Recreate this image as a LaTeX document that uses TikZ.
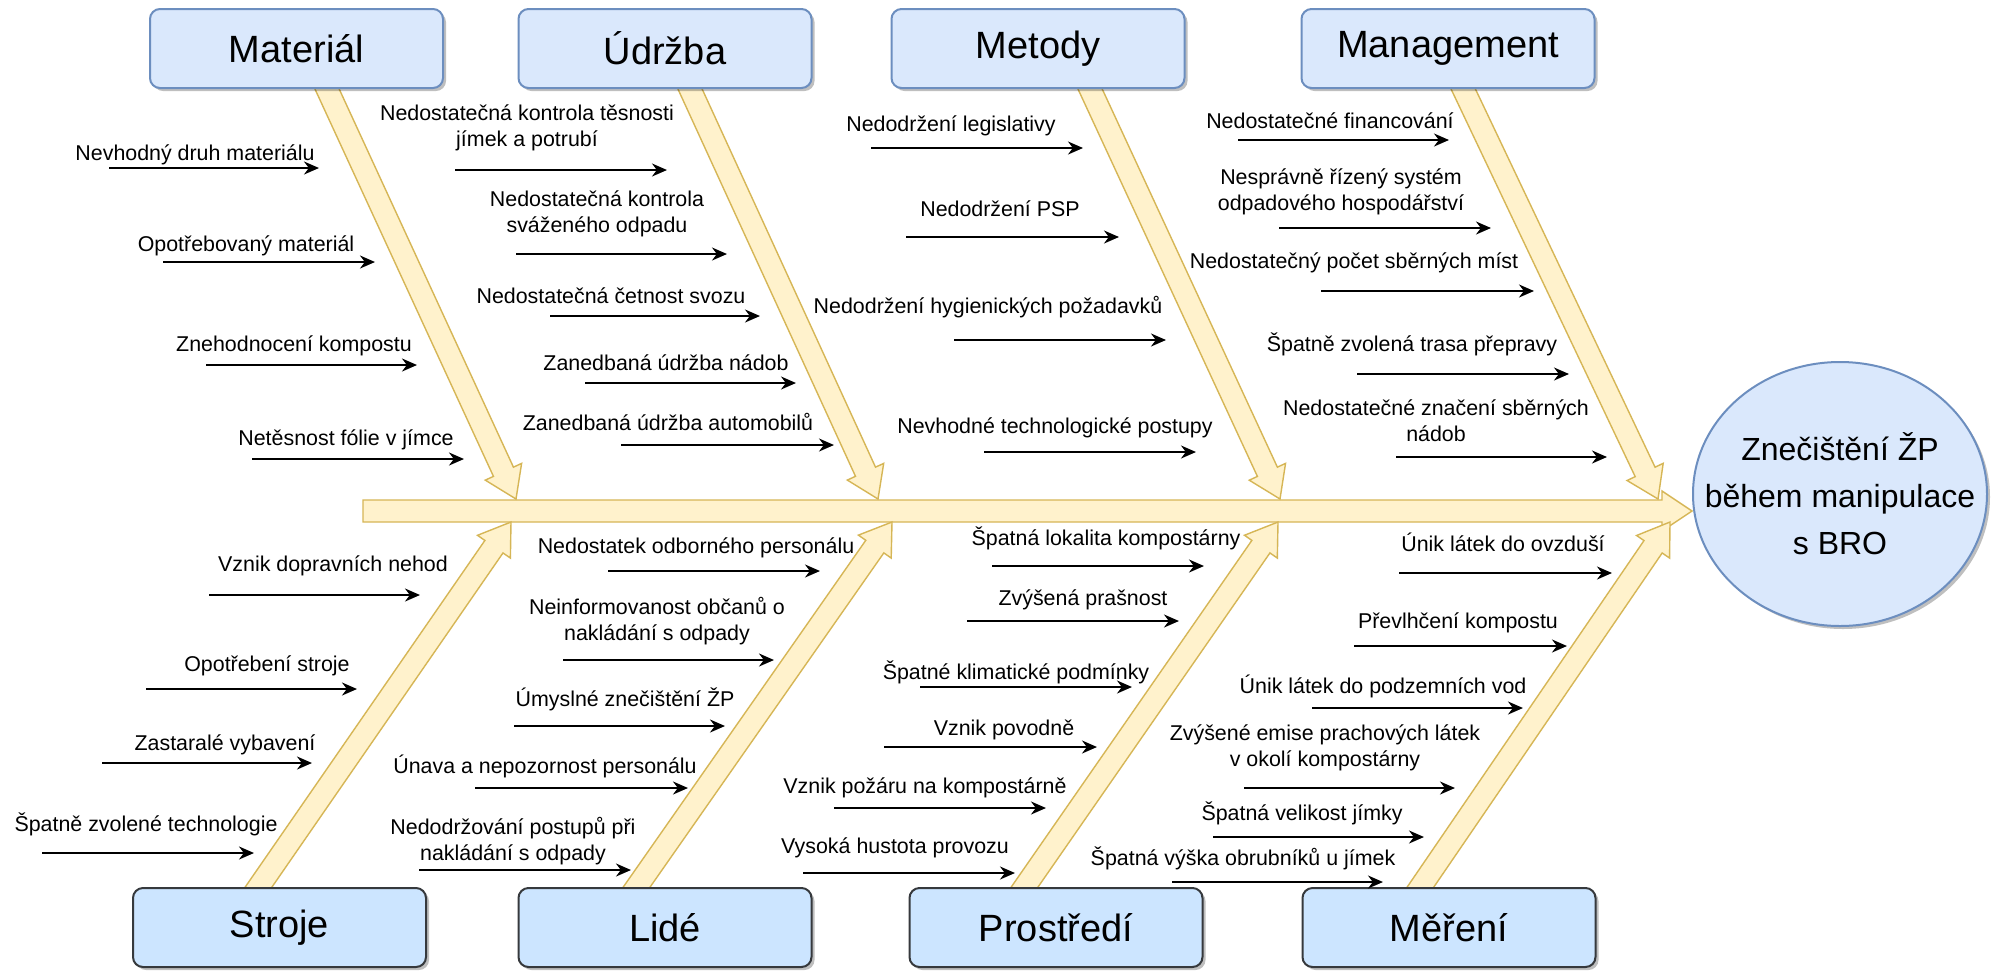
\documentclass[tikz,border=0pt]{standalone}
\usepackage{fontspec}
\setmainfont{Liberation Sans}
\usetikzlibrary{calc,arrows.meta,shadows,shapes.geometric}

\definecolor{catfill}{HTML}{DAE8FC}
\definecolor{catline}{HTML}{6C8EBF}
\definecolor{lowfill}{HTML}{CCE5FF}
\definecolor{lowline}{HTML}{36393D}
\definecolor{bonefill}{HTML}{FFF2CC}
\definecolor{boneline}{HTML}{D6B656}

% wide yellow arrow from #1 to #2 (shaft, head ends at #2)
\newcommand{\bonearrow}[2]{%
  \coordinate (bh) at ($(#2)!15pt!(#1)$);
  \filldraw[bone] ($(#1)!5.5pt!90:(#2)$) -- ($(bh)!5.5pt!90:(#2)$)
    -- ($(bh)!10pt!90:(#2)$) -- (#2) -- ($(bh)!10pt!-90:(#2)$)
    -- ($(bh)!5.5pt!-90:(#2)$) -- ($(#1)!5.5pt!-90:(#2)$) -- cycle;}

\begin{document}
\begin{tikzpicture}[
    x=0.5pt, y=-0.5pt,
    font=\fontsize{10.7}{12.8}\selectfont,
    cat/.style={draw=catline, fill=catfill, line width=1pt, rounded corners=5pt,
      minimum width=146.5pt, minimum height=39.5pt, inner sep=0pt,
      font=\fontsize{19}{22}\selectfont,
      drop shadow={shadow xshift=1.5pt, shadow yshift=-1.5pt, fill=black, opacity=0.25}},
    low/.style={cat, draw=lowline, fill=lowfill},          % bottom row of categories
    goal/.style={ellipse, draw=catline, fill=catfill, line width=1pt,
      minimum width=147pt, minimum height=132pt, inner sep=0pt,
      drop shadow={shadow xshift=1.5pt, shadow yshift=-1.5pt, fill=black, opacity=0.25}},
    goaltext/.style={align=center, inner sep=0pt, font=\fontsize{16}{23.5}\selectfont},
    bone/.style={fill=bonefill, draw=boneline, line width=0.7pt},
    cause/.style={anchor=base, inner sep=0pt, align=center},   % base = last line
    causearr/.style={-{Stealth[length=7.5pt, width=6.5pt]}, line width=1pt}
  ]

\path[use as bounding box, fill=white] (0,0) rectangle (1999,971);

% --- Head of the fish ---
\node[goal, label={[goaltext]center:Znečištění ŽP\\během manipulace\\s BRO}] (goal) at (1840,494) {};

% --- Spine ---
\coordinate (spine-a) at (363,511);
\coordinate (spine-b) at (goal.west |- spine-a);
\bonearrow{spine-a}{spine-b}

% --- Bones (start inside the boxes, tips on the spine) ---
\coordinate (mat-a) at (322,78);   \coordinate (mat-b) at (516,499);
\coordinate (udr-a) at (685,78);   \coordinate (udr-b) at (878,499);
\coordinate (met-a) at (1085,78);  \coordinate (met-b) at (1280,499);
\coordinate (man-a) at (1458,78);  \coordinate (man-b) at (1658,499);
\coordinate (str-a) at (251,898);  \coordinate (str-b) at (511,522);
\coordinate (lid-a) at (629,898);  \coordinate (lid-b) at (892,522);
\coordinate (pro-a) at (1017,898); \coordinate (pro-b) at (1278,522);
\coordinate (mer-a) at (1413,898); \coordinate (mer-b) at (1670,522);
\bonearrow{mat-a}{mat-b}
\bonearrow{udr-a}{udr-b}
\bonearrow{met-a}{met-b}
\bonearrow{man-a}{man-b}
\bonearrow{str-a}{str-b}
\bonearrow{lid-a}{lid-b}
\bonearrow{pro-a}{pro-b}
\bonearrow{mer-a}{mer-b}

% --- Categories ---
\node[cat] (mat) at (296.5,48.5) {Materiál};
\node[cat] (udr) at (665,48.5)   {Údržba};
\node[cat] (met) at (1038,48.5)  {Metody};
\node[cat] (man) at (1448,48.5)  {Management};
\node[low] (str) at (279.5,927.5) {Stroje};
\node[low] (lid) at (665,927.5)   {Lidé};
\node[low] (pro) at (1056,927.5)  {Prostředí};
\node[low] (mer) at (1449,927.5)  {Měření};

% --- Materiál ---
\node[cause] (m1) at (195,160) {Nevhodný druh materiálu};
\coordinate (m1a) at (109,168); \coordinate (m1b) at (319,168);
\draw[causearr] (m1a) -- (m1b);
\node[cause] (m2) at (246,251) {Opotřebovaný materiál};
\coordinate (m2a) at (163,262); \coordinate (m2b) at (375,262);
\draw[causearr] (m2a) -- (m2b);
\node[cause] (m3) at (294,351) {Znehodnocení kompostu};
\coordinate (m3a) at (206,365); \coordinate (m3b) at (417,365);
\draw[causearr] (m3a) -- (m3b);
\node[cause] (m4) at (346,445) {Netěsnost fólie v jímce};
\coordinate (m4a) at (252,459); \coordinate (m4b) at (464,459);
\draw[causearr] (m4a) -- (m4b);

% --- Údržba ---
\node[cause] (u1) at (527,146) {Nedostatečná kontrola těsnosti\\jímek a potrubí};
\coordinate (u1a) at (455,170); \coordinate (u1b) at (667,170);
\draw[causearr] (u1a) -- (u1b);
\node[cause] (u2) at (597,232) {Nedostatečná kontrola\\sváženého odpadu};
\coordinate (u2a) at (516,254); \coordinate (u2b) at (727,254);
\draw[causearr] (u2a) -- (u2b);
\node[cause] (u3) at (611,303) {Nedostatečná četnost svozu};
\coordinate (u3a) at (550,316); \coordinate (u3b) at (760,316);
\draw[causearr] (u3a) -- (u3b);
\node[cause] (u4) at (666,370) {Zanedbaná údržba nádob};
\coordinate (u4a) at (585,383); \coordinate (u4b) at (796,383);
\draw[causearr] (u4a) -- (u4b);
\node[cause] (u5) at (668,430) {Zanedbaná údržba automobilů};
\coordinate (u5a) at (621,445); \coordinate (u5b) at (834,445);
\draw[causearr] (u5a) -- (u5b);

% --- Metody ---
\node[cause] (e1) at (951,131) {Nedodržení legislativy};
\coordinate (e1a) at (871,148); \coordinate (e1b) at (1083,148);
\draw[causearr] (e1a) -- (e1b);
\node[cause] (e2) at (1000,216) {Nedodržení PSP};
\coordinate (e2a) at (906,237); \coordinate (e2b) at (1119,237);
\draw[causearr] (e2a) -- (e2b);
\node[cause] (e3) at (988,313) {Nedodržení hygienických požadavků};
\coordinate (e3a) at (954,340); \coordinate (e3b) at (1166,340);
\draw[causearr] (e3a) -- (e3b);
\node[cause] (e4) at (1055,433) {Nevhodné technologické postupy};
\coordinate (e4a) at (984,452); \coordinate (e4b) at (1196,452);
\draw[causearr] (e4a) -- (e4b);

% --- Management ---
\node[cause] (g1) at (1330,128) {Nedostatečné financování};
\coordinate (g1a) at (1238,140); \coordinate (g1b) at (1449,140);
\draw[causearr] (g1a) -- (g1b);
\node[cause] (g2) at (1341,210) {Nesprávně řízený systém\\odpadového hospodářství};
\coordinate (g2a) at (1279,228); \coordinate (g2b) at (1491,228);
\draw[causearr] (g2a) -- (g2b);
\node[cause] (g3) at (1354,268) {Nedostatečný počet sběrných míst};
\coordinate (g3a) at (1321,291); \coordinate (g3b) at (1534,291);
\draw[causearr] (g3a) -- (g3b);
\node[cause] (g4) at (1412,351) {Špatně zvolená trasa přepravy};
\coordinate (g4a) at (1357,374); \coordinate (g4b) at (1569,374);
\draw[causearr] (g4a) -- (g4b);
\node[cause] (g5) at (1436,441) {Nedostatečné značení sběrných\\nádob};
\coordinate (g5a) at (1396,457); \coordinate (g5b) at (1607,457);
\draw[causearr] (g5a) -- (g5b);

% --- Stroje ---
\node[cause] (s1) at (333,571) {Vznik dopravních nehod};
\coordinate (s1a) at (209,595); \coordinate (s1b) at (420,595);
\draw[causearr] (s1a) -- (s1b);
\node[cause] (s2) at (267,671) {Opotřebení stroje};
\coordinate (s2a) at (146,689); \coordinate (s2b) at (357,689);
\draw[causearr] (s2a) -- (s2b);
\node[cause] (s3) at (225,750) {Zastaralé vybavení};
\coordinate (s3a) at (102,763); \coordinate (s3b) at (312,763);
\draw[causearr] (s3a) -- (s3b);
\node[cause] (s4) at (146,831) {Špatně zvolené technologie};
\coordinate (s4a) at (42,853); \coordinate (s4b) at (254,853);
\draw[causearr] (s4a) -- (s4b);

% --- Lidé ---
\node[cause] (l1) at (696,553) {Nedostatek odborného personálu};
\coordinate (l1a) at (608,571); \coordinate (l1b) at (820,571);
\draw[causearr] (l1a) -- (l1b);
\node[cause] (l2) at (657,640) {Neinformovanost občanů o\\nakládání s odpady};
\coordinate (l2a) at (563,660); \coordinate (l2b) at (774,660);
\draw[causearr] (l2a) -- (l2b);
\node[cause] (l3) at (625,706) {Úmyslné znečištění ŽP};
\coordinate (l3a) at (514,726); \coordinate (l3b) at (725,726);
\draw[causearr] (l3a) -- (l3b);
\node[cause] (l4) at (545,773) {Únava a nepozornost personálu};
\coordinate (l4a) at (475,788); \coordinate (l4b) at (688,788);
\draw[causearr] (l4a) -- (l4b);
\node[cause] (l5) at (513,860) {Nedodržování postupů při\\nakládání s odpady};
\coordinate (l5a) at (419,870); \coordinate (l5b) at (631,870);
\draw[causearr] (l5a) -- (l5b);

% --- Prostředí ---
\node[cause] (p1) at (1106,545) {Špatná lokalita kompostárny};
\coordinate (p1a) at (992,566); \coordinate (p1b) at (1204,566);
\draw[causearr] (p1a) -- (p1b);
\node[cause] (p2) at (1083,605) {Zvýšená prašnost};
\coordinate (p2a) at (967,621); \coordinate (p2b) at (1179,621);
\draw[causearr] (p2a) -- (p2b);
\node[cause] (p3) at (1016,679) {Špatné klimatické podmínky};
\coordinate (p3a) at (920,687); \coordinate (p3b) at (1132,687);
\draw[causearr] (p3a) -- (p3b);
\node[cause] (p4) at (1004,735) {Vznik povodně};
\coordinate (p4a) at (884,747); \coordinate (p4b) at (1097,747);
\draw[causearr] (p4a) -- (p4b);
\node[cause] (p5) at (925,793) {Vznik požáru na kompostárně};
\coordinate (p5a) at (834,808); \coordinate (p5b) at (1046,808);
\draw[causearr] (p5a) -- (p5b);
\node[cause] (p6) at (895,853) {Vysoká hustota provozu};
\coordinate (p6a) at (803,873); \coordinate (p6b) at (1015,873);
\draw[causearr] (p6a) -- (p6b);

% --- Měření ---
\node[cause] (r1) at (1503,551) {Únik látek do ovzduší};
\coordinate (r1a) at (1399,573); \coordinate (r1b) at (1612,573);
\draw[causearr] (r1a) -- (r1b);
\node[cause] (r2) at (1458,628) {Převlhčení kompostu};
\coordinate (r2a) at (1354,646); \coordinate (r2b) at (1567,646);
\draw[causearr] (r2a) -- (r2b);
\node[cause] (r3) at (1383,693) {Únik látek do podzemních vod};
\coordinate (r3a) at (1312,708); \coordinate (r3b) at (1523,708);
\draw[causearr] (r3a) -- (r3b);
\node[cause] (r4) at (1325,766) {Zvýšené emise prachových látek\\v okolí kompostárny};
\coordinate (r4a) at (1244,788); \coordinate (r4b) at (1455,788);
\draw[causearr] (r4a) -- (r4b);
\node[cause] (r5) at (1302,820) {Špatná velikost jímky};
\coordinate (r5a) at (1213,837); \coordinate (r5b) at (1424,837);
\draw[causearr] (r5a) -- (r5b);
\node[cause] (r6) at (1243,865) {Špatná výška obrubníků u jímek};
\coordinate (r6a) at (1172,882); \coordinate (r6b) at (1383,882);
\draw[causearr] (r6a) -- (r6b);

\end{tikzpicture}
\end{document}
